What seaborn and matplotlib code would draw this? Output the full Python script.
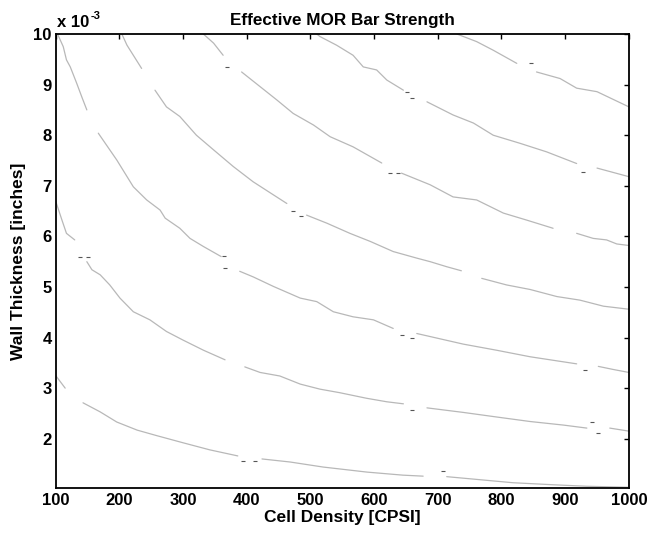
import pandas as pd
import matplotlib
matplotlib.use("Agg")
import matplotlib.pyplot as plt
import seaborn as sns

# Contour lines of effective MOR bar strength.
# x = cell density [CPSI], y = wall thickness [1e-3 inches]
# each contour is a list of pieces (gaps are where the labels were)
c1 = [
    ([100, 115], [3.25, 3.00]),
    ([143, 170, 196, 228, 259, 300, 342, 386], [2.71, 2.53, 2.33, 2.17, 2.06, 1.92, 1.78, 1.66]),
    ([424, 468, 520, 589, 645, 677], [1.60, 1.54, 1.44, 1.34, 1.28, 1.26]),
    ([714, 766, 818, 881, 934, 1000], [1.25, 1.19, 1.13, 1.09, 1.06, 1.04]),
]
c2 = [
    ([100, 110, 117, 130], [6.70, 6.32, 6.06, 5.93]),
    ([149, 157, 170, 185, 201, 222, 248, 274, 300, 332, 366],
     [5.50, 5.34, 5.24, 5.04, 4.78, 4.51, 4.35, 4.12, 3.95, 3.75, 3.56]),
    ([397, 421, 452, 484, 515, 546, 588, 620, 646], [3.42, 3.31, 3.24, 3.08, 2.98, 2.91, 2.80, 2.73, 2.69]),
    ([683, 740, 792, 845, 897, 934], [2.61, 2.52, 2.43, 2.34, 2.27, 2.21]),
    ([970, 1000], [2.21, 2.15]),
]
c3 = [
    ([103, 112, 117, 123, 133, 141, 149], [10.0, 9.75, 9.49, 9.35, 9.03, 8.76, 8.50]),
    ([167, 196, 222, 243, 264, 272, 295, 311, 332, 360],
     [8.04, 7.51, 6.98, 6.72, 6.52, 6.36, 6.16, 5.96, 5.80, 5.60]),
    ([389, 410, 442, 484, 510, 536, 567, 599, 630], [5.31, 5.20, 5.01, 4.78, 4.71, 4.51, 4.41, 4.35, 4.18]),
    ([667, 740, 792, 845, 918], [4.08, 3.87, 3.75, 3.62, 3.48]),
    ([952, 975, 1000], [3.43, 3.37, 3.31]),
]
c4 = [
    ([204, 212, 222, 235], [10.0, 9.78, 9.58, 9.32]),
    ([256, 274, 295, 321, 348, 379, 410, 442, 463], [8.89, 8.56, 8.37, 8.00, 7.71, 7.38, 7.08, 6.82, 6.65]),
    ([494, 526, 562, 594, 630, 667, 688, 714, 737], [6.42, 6.26, 6.06, 5.90, 5.70, 5.57, 5.50, 5.40, 5.32]),
    ([769, 808, 845, 887, 923, 960, 1000], [5.17, 5.04, 4.95, 4.81, 4.74, 4.62, 4.56]),
]
c5 = [
    ([332, 348, 363], [10.0, 9.82, 9.58]),
    ([392, 421, 447, 473, 505, 531, 567, 612], [9.25, 8.96, 8.70, 8.43, 8.20, 7.97, 7.77, 7.45]),
    ([643, 688, 724, 761, 803, 840, 881], [7.25, 7.02, 6.78, 6.72, 6.46, 6.32, 6.16]),
    ([918, 944, 965, 981, 1000], [6.06, 5.96, 5.93, 5.85, 5.82]),
]
c6 = [
    ([510, 515, 541, 567, 583, 604, 620, 646], [10.0, 9.95, 9.78, 9.58, 9.35, 9.29, 9.09, 8.89]),
    ([683, 724, 756, 787, 829, 871, 918], [8.66, 8.40, 8.24, 8.00, 7.84, 7.67, 7.44]),
    ([950, 1000], [7.35, 7.18]),
]
c7 = [
    ([730, 761, 787, 824], [10.0, 9.85, 9.68, 9.42]),
    ([855, 892, 918, 950, 1000], [9.25, 9.12, 8.93, 8.86, 8.56]),
]
contours = [c1, c2, c3, c4, c5, c6, c7]

# little dark marks left over where the contour labels were
mark_x = [138, 151, 364, 366, 369, 394, 413, 473, 486, 644, 659, 660, 708, 931, 942, 952, 651, 659, 625, 638, 847, 928]
mark_y = [5.59, 5.59, 5.61, 5.37, 9.35, 1.55, 1.55, 6.50, 6.41, 4.05, 3.99, 2.56, 1.36, 3.35, 2.33, 2.11, 8.86, 8.73, 7.25, 7.25, 9.43, 7.28]

rows = []
for ci, curve in enumerate(contours):
    for si, (xs, ys) in enumerate(curve):
        for x, y in zip(xs, ys):
            rows.append({"density": x, "thickness": y, "piece": f"{ci}-{si}"})
df = pd.DataFrame(rows)
marks = pd.DataFrame({"density": mark_x, "thickness": mark_y})

sns.set_theme(style="white")
plt.rcParams["font.family"] = ["Liberation Sans", "DejaVu Sans"]
plt.rcParams["text.color"] = "black"
plt.rcParams["axes.labelcolor"] = "black"

fig = plt.figure(figsize=(6.49, 5.35), dpi=100)
ax = fig.add_axes([0.0857, 0.0873, 0.8833, 0.8491])

sns.lineplot(data=df, x="density", y="thickness", units="piece", estimator=None,
             sort=False, color="#b8b8b8", linewidth=0.9, ax=ax)
sns.scatterplot(data=marks, x="density", y="thickness", marker="_", s=12,
                color="#555555", linewidth=0.8, ax=ax)

ax.set_xlim(100, 1000)
ax.set_ylim(1.02, 10)
ax.set_xticks(range(100, 1001, 100))
ax.set_yticks(range(2, 11))
ax.tick_params(direction="in", length=3.8, width=1.0, top=True, right=True,
               labelsize=12, colors="black")
ax.tick_params(axis="x", pad=3.6)
ax.tick_params(axis="y", pad=2.8)
for lab in ax.get_xticklabels() + ax.get_yticklabels():
    lab.set_fontweight("bold")
for sp in ax.spines.values():
    sp.set_color("black")
    sp.set_linewidth(1.3)

ax.set_xlabel("Cell Density [CPSI]", fontsize=12.5, fontweight="bold", labelpad=1)
ax.set_ylabel("Wall Thickness [inches]", fontsize=12.5, fontweight="bold", labelpad=5)
ax.set_title("Effective MOR Bar Strength", fontsize=12.3, fontweight="bold", pad=6.5)

# MATLAB-style exponent label
base = ax.text(0.002, 1.008, "x 10", transform=ax.transAxes, fontsize=12,
               fontweight="bold", ha="left", va="bottom")
ax.annotate("-3", xy=(1.0, 0.62), xycoords=base, xytext=(1, 0),
            textcoords="offset points", fontsize=8, fontweight="bold",
            ha="left", va="bottom")

fig.savefig("out.png", dpi=100, facecolor="white")
